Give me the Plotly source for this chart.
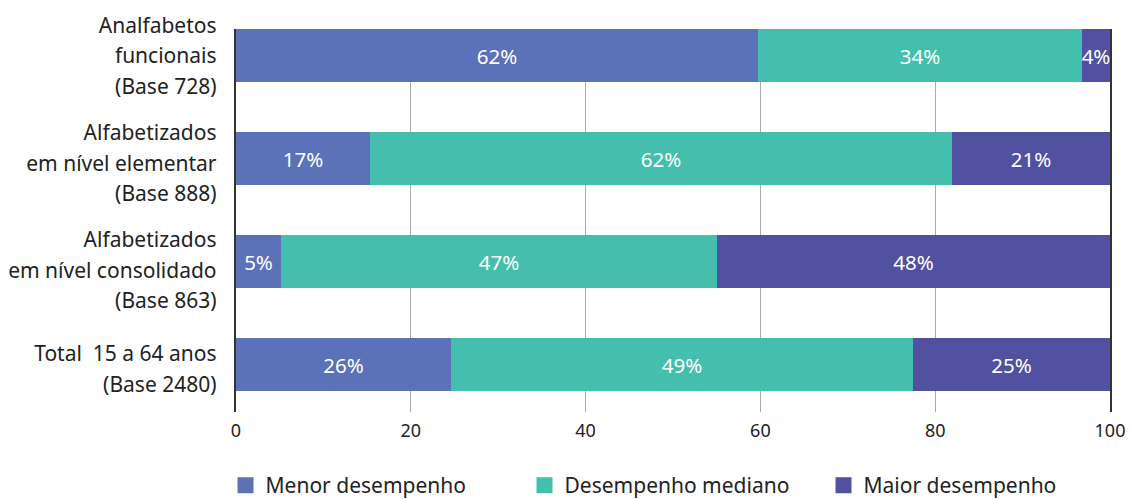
import plotly.graph_objects as go

category_lines = [
    ["Analfabetos", "funcionais", "(Base 728)"],
    ["Alfabetizados", "em nível elementar", "(Base 888)"],
    ["Alfabetizados", "em nível consolidado", "(Base 863)"],
    ["Total  15 a 64 anos", "(Base 2480)"],
]
series_names = ["Menor desempenho", "Desempenho mediano", "Maior desempenho"]
# bar lengths as drawn in the reference
menor_values = [59.7, 15.3, 5.2, 24.6]
mediano_values = [37.1, 66.6, 49.8, 52.9]
maior_values = [3.2, 18.1, 45.0, 22.5]
# printed labels
menor_labels = ["62%", "17%", "5%", "26%"]
mediano_labels = ["34%", "62%", "47%", "49%"]
maior_labels = ["4%", "21%", "48%", "25%"]
x_ticks = [0, 20, 40, 60, 80, 100]

# ---- styling / layout constants ----
colors = ["#5b72b8", "#45bfad", "#5250a1"]
FONT = "Noto Sans"
TXT = "#222222"
W, H = 1130, 500
M_T, M_B, M_L, M_R = 29, 88, 236, 20
Y_RANGE = [3.46, -0.2575]
LABEL_PX = 21          # visible size of category label text
LINE_PX = 23.5         # sets the line spacing (1.3 x) of category labels
# vertical shift (px) of each label block relative to its bar centre
block_shift_px = [-0.5, 3.9, 8.0, 3.5]

values = [menor_values, mediano_values, maior_values]
labels = [menor_labels, mediano_labels, maior_labels]
ypos = list(range(len(category_lines)))

plot_h = H - M_T - M_B
px_per_unit = plot_h / abs(Y_RANGE[0] - Y_RANGE[1])
tick_vals = [i + s / px_per_unit for i, s in zip(ypos, block_shift_px)]
tick_text = [
    "<br>".join(f'<span style="font-size:{LABEL_PX}px">{ln}</span>' for ln in lines)
    for lines in category_lines
]

fig = go.Figure()
for name, vals, labs, col in zip(series_names, values, labels, colors):
    fig.add_trace(go.Bar(
        name=name, y=ypos, x=vals, orientation="h",
        marker=dict(color=col, line=dict(width=0)),
        text=labs, texttemplate="%{text}", textposition="inside", textangle=0,
        insidetextanchor="middle", constraintext="none",
        textfont=dict(color="white", size=20.5, family=FONT),
        width=0.515, hoverinfo="skip", showlegend=False,
    ))
# legend entries (square markers)
for name, col in zip(series_names, colors):
    fig.add_trace(go.Scatter(
        x=[None], y=[None], mode="markers", name=name,
        marker=dict(symbol="square", size=22, color=col),
        showlegend=True, hoverinfo="skip",
    ))

fig.update_layout(
    barmode="stack",
    width=W, height=H,
    margin=dict(l=M_L, r=M_R, t=M_T, b=M_B, autoexpand=False),
    paper_bgcolor="white", plot_bgcolor="white",
    font=dict(family=FONT, color=TXT),
    showlegend=True,
    legend=dict(orientation="h", x=-0.012, xanchor="left", y=-(M_B + 6) / plot_h,
                yanchor="bottom",
                font=dict(size=21, color=TXT), traceorder="normal",
                itemwidth=30, entrywidth=254, entrywidthmode="pixels"),
    bargap=0,
)
fig.update_xaxes(
    range=[0, 100], tickvals=x_ticks, showgrid=True, gridcolor="#aaaaaa", gridwidth=1,
    zeroline=False, showline=False, ticks="", tickfont=dict(size=18, color=TXT),
    ticklabelstandoff=6, fixedrange=True, automargin=False,
)
fig.update_yaxes(
    range=Y_RANGE, tickvals=tick_vals, ticktext=tick_text, showgrid=False,
    zeroline=False, showline=True, mirror=True, linecolor="#333333", linewidth=1.5,
    ticks="", tickfont=dict(size=LINE_PX, color=TXT), ticklabelstandoff=13,
    fixedrange=True, automargin=False,
)
fig.write_html("out.html", config={"displayModeBar": False},
               post_script="document.body.style.margin='0px';")
